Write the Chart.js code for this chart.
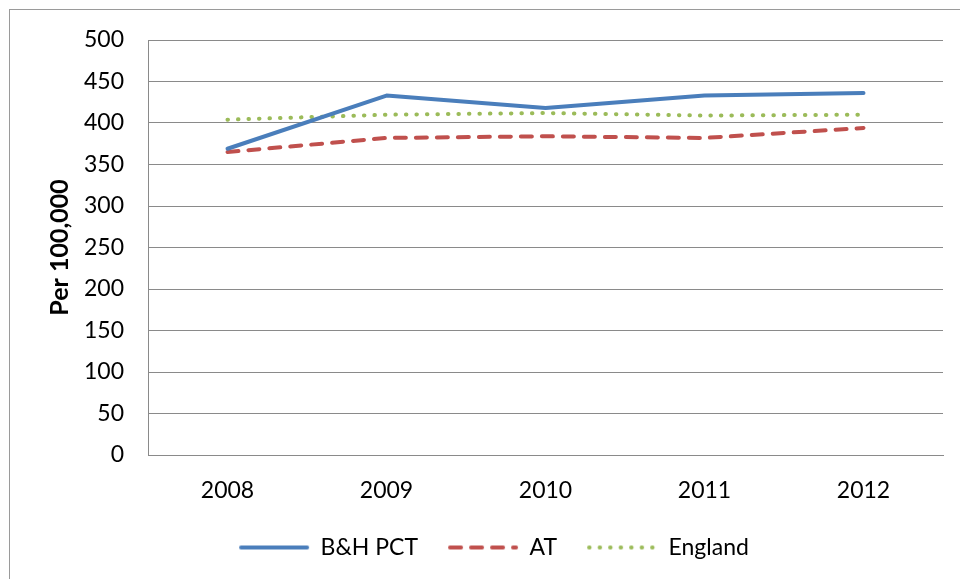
<!DOCTYPE html>
<html>
<head>
<meta charset="utf-8">
<script src="https://cdn.jsdelivr.net/npm/chart.js@4.4.1/dist/chart.umd.min.js"></script>
<style>
  html, body { margin: 0; padding: 0; background: #fff; overflow: hidden; }
  #wrap { position: relative; width: 960px; height: 579px; }
  #frame { position: absolute; left: 9px; top: 9px; width: 1000px; height: 620px;
           border: 1.5px solid #9a9a9a; box-sizing: border-box; }
  canvas { position: absolute; left: 0; top: 0; }
</style>
</head>
<body>
<div id="wrap">
  <div id="frame"></div>
  <canvas id="chart" width="960" height="579"></canvas>
</div>
<script>
// Rates per 100,000 population, by year
const years = ['2008', '2009', '2010', '2011', '2012'];
const bhPct = [369, 433, 418, 433, 436];
const atValues = [365, 382, 384, 382, 394];
const englandValues = [404, 410, 412, 409, 410];
const yTicks = { min: 0, max: 500, step: 50 };

const FONT = 'Lato, "Open Sans", sans-serif';
const GRID = '#8a8a8a';

// Small line sample for a legend entry, drawn with the series' own stroke style
function lineSample(ds) {
  const c = document.createElement('canvas');
  c.width = 72;
  c.height = 8;
  const g = c.getContext('2d');
  g.strokeStyle = ds.borderColor;
  g.lineWidth = ds.borderWidth;
  g.lineCap = ds.borderCapStyle || 'butt';
  g.setLineDash(ds.borderDash || []);
  g.beginPath();
  g.moveTo(3, 4);
  g.lineTo(69, 4);
  g.stroke();
  return c;
}

const datasets = [
  {
    label: 'B&H PCT',
    data: bhPct,
    borderColor: '#4a7ebb',
    backgroundColor: '#4a7ebb',
    borderWidth: 4,
    borderCapStyle: 'round',
    borderJoinStyle: 'round',
    pointRadius: 0,
    tension: 0
  },
  {
    label: 'AT',
    data: atValues,
    borderColor: '#c0504d',
    backgroundColor: '#c0504d',
    borderWidth: 4,
    borderDash: [11, 10],
    borderCapStyle: 'round',
    pointRadius: 0,
    tension: 0
  },
  {
    label: 'England',
    data: englandValues,
    borderColor: '#9bbb59',
    backgroundColor: '#9bbb59',
    borderWidth: 4,
    borderDash: [0.5, 10],
    borderCapStyle: 'round',
    pointRadius: 0,
    tension: 0
  }
];

new Chart(document.getElementById('chart'), {
  type: 'line',
  data: { labels: years, datasets },
  options: {
    responsive: false,
    animation: false,
    layout: { padding: { left: 45, right: 17, top: 40, bottom: 10 } },
    plugins: {
      tooltip: { enabled: false },
      legend: {
        position: 'bottom',
        labels: {
          usePointStyle: true,
          pointStyleWidth: 70,
          boxWidth: 70,
          padding: 30,
          color: '#000',
          font: { family: FONT, size: 23 },
          generateLabels: (chart) => chart.data.datasets.map((ds, i) => ({
            text: ds.label,
            datasetIndex: i,
            hidden: !chart.isDatasetVisible(i),
            fillStyle: ds.borderColor,
            strokeStyle: ds.borderColor,
            lineWidth: 0,
            fontColor: '#000',
            pointStyle: lineSample(ds)
          }))
        }
      }
    },
    scales: {
      x: {
        offset: true,
        grid: { display: false, drawTicks: false },
        border: { display: true, color: GRID, width: 1 },
        ticks: { color: '#000', padding: 22, font: { family: FONT, size: 23 } },
        afterFit: (s) => { s.height = 51; }
      },
      y: {
        min: yTicks.min,
        max: yTicks.max,
        grid: { color: GRID, lineWidth: 1, drawTicks: false },
        border: { display: true, color: GRID, width: 1 },
        ticks: {
          stepSize: yTicks.step,
          color: '#000',
          padding: 24,
          font: { family: FONT, size: 23 }
        },
        title: {
          display: true,
          text: 'Per 100,000',
          color: '#000',
          padding: { top: 0, bottom: 0 },
          font: { family: FONT, size: 25, weight: 'bold' }
        },
        afterFit: (s) => { s.width = 103; }
      }
    }
  }
});
</script>
</body>
</html>
